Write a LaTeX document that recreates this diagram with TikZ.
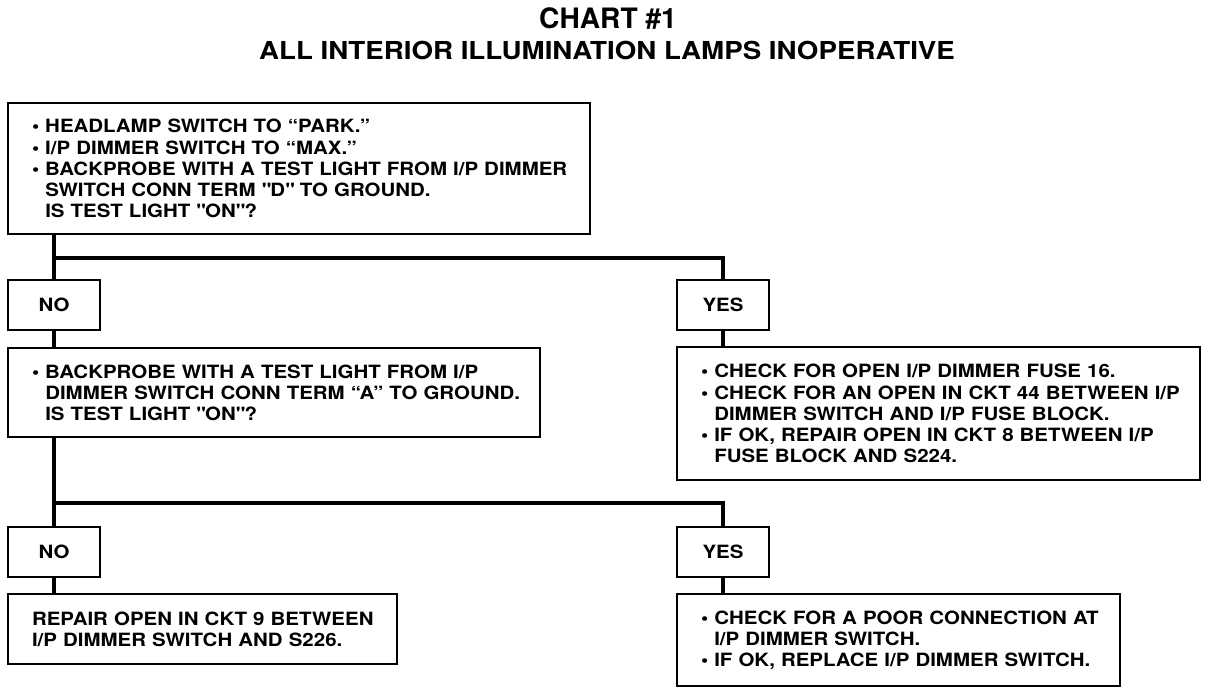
\documentclass[tikz,border=0pt]{standalone}
\usepackage{fontspec}
\setmainfont{TeX Gyre Heros}
\newfontfamily\chartfont{TeX Gyre Heros}[FakeStretch=1.12]
\usepackage{tikz}
\usetikzlibrary{positioning, calc}

\newcommand{\bul}{\textbullet\ }
\newcommand{\ind}{\phantom{\textbullet}\ }
\newcommand{\rowtext}[1]{\mbox{#1}}

\begin{document}
\begin{tikzpicture}[
    node distance=0.45cm and 14.425cm,
    box/.style={rectangle, draw, line width=2pt, fill=white, outer sep=0pt, align=left, inner xsep=0.6cm, inner ysep=0pt, font=\chartfont\fontsize{13}{15}\selectfont\bfseries},
    tag/.style={rectangle, draw, line width=2pt, fill=white, outer sep=0pt, minimum width=2.3cm, minimum height=1.25cm, inner sep=0pt, font=\chartfont\fontsize{13}{15}\selectfont\bfseries},
    link/.style={line width=3.5pt}
]
\useasboundingbox (0,0) rectangle (30.4,-17.35);

% heading
\node[font=\fontsize{20}{24}\selectfont\bfseries] (title) at (15.2,-0.475) {CHART \#1};
\node[font=\chartfont\fontsize{17.6}{22}\selectfont\bfseries] (subtitle) at (15.175,-1.25) {ALL INTERIOR ILLUMINATION LAMPS INOPERATIVE};

% first test
\node[box, anchor=north west, text width=13.35cm, minimum height=3.275cm] (start) at (0.2,-2.575) {
    \rowtext{\bul HEADLAMP SWITCH TO “PARK.”}\\
    \rowtext{\bul I/P DIMMER SWITCH TO “MAX.”}\\
    \rowtext{\bul BACKPROBE WITH A TEST LIGHT FROM I/P DIMMER}\\
    \rowtext{\ind SWITCH CONN TERM \textquotedbl D\textquotedbl\ TO GROUND.}\\
    \rowtext{\ind IS TEST LIGHT \textquotedbl ON\textquotedbl ?}
};

\node[tag, below=1.15cm of start.south west, anchor=north west] (no1) {NO};
\node[tag, right=of no1] (yes1) {YES};

\node[box, below=of no1.south west, anchor=north west, text width=12.1cm, minimum height=2.225cm] (test2) {
    \rowtext{\bul BACKPROBE WITH A TEST LIGHT FROM I/P}\\
    \rowtext{\ind DIMMER SWITCH CONN TERM “A” TO GROUND.}\\
    \rowtext{\ind IS TEST LIGHT \textquotedbl ON\textquotedbl ?}
};

\node[box, below=0.425cm of yes1.south west, anchor=north west, text width=11.875cm, minimum height=3.325cm] (fuse) {
    \rowtext{\bul CHECK FOR OPEN I/P DIMMER FUSE 16.}\\
    \rowtext{\bul CHECK FOR AN OPEN IN CKT 44 BETWEEN I/P}\\
    \rowtext{\ind DIMMER SWITCH AND I/P FUSE BLOCK.}\\
    \rowtext{\bul IF OK, REPAIR OPEN IN CKT 8 BETWEEN I/P}\\
    \rowtext{\ind FUSE BLOCK AND S224.}
};

% second test
\node[tag, below=2.25cm of test2.south west, anchor=north west] (no2) {NO};
\node[tag, right=of no2] (yes2) {YES};

\node[box, below=0.425cm of no2.south west, anchor=north west, text width=8.525cm, minimum height=1.75cm] (ckt9) {
    \rowtext{REPAIR OPEN IN CKT 9 BETWEEN}\\
    \rowtext{I/P DIMMER SWITCH AND S226.}
};

\node[box, below=0.425cm of yes2.south west, anchor=north west, text width=9.875cm, minimum height=2.3cm] (conn) {
    \rowtext{\bul CHECK FOR A POOR CONNECTION AT}\\
    \rowtext{\ind I/P DIMMER SWITCH.}\\
    \rowtext{\bul IF OK, REPLACE I/P DIMMER SWITCH.}
};

% branches
\coordinate (fork1) at ($(no1.north)+(0,0.55)$);
\coordinate (fork2) at ($(no2.north)+(0,0.6)$);

\draw[link] (start.south -| no1) -- (no1.north);
\draw[link] (fork1) -| (yes1.north);
\draw[link] (no1.south) -- (no1.south |- test2.north);
\draw[link] (yes1.south) -- (yes1.south |- fuse.north);

\draw[link] (test2.south -| no2) -- (no2.north);
\draw[link] (fork2) -| (yes2.north);
\draw[link] (no2.south) -- (no2.south |- ckt9.north);
\draw[link] (yes2.south) -- (yes2.south |- conn.north);

\end{tikzpicture}
\end{document}
